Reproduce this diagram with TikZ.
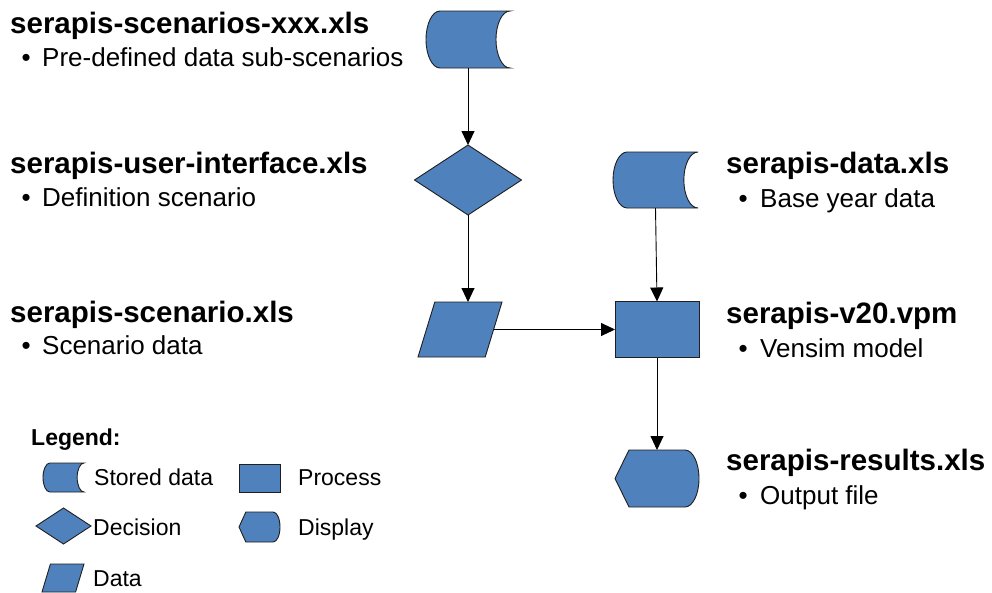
\documentclass[tikz,border=0pt]{standalone}
\usepackage{fontspec}
\setmainfont{Liberation Sans}
\usetikzlibrary{arrows.meta}
\definecolor{shpblue}{HTML}{4F81BD}
\definecolor{shpline}{HTML}{1F1F1F}
\tikzset{
  frame/.style={draw=none, inner sep=0pt, outer sep=0pt},
  shp/.style={draw=shpline, fill=shpblue, line width=0.9pt, line join=miter},
  arr/.style={draw=black, line width=0.9pt, -{Triangle[length=14pt,width=13pt]}},
  ttl/.style={anchor=base west, inner sep=0pt, font=\fontsize{29.5}{34}\selectfont\bfseries},
  bul/.style={anchor=base west, inner sep=0pt, font=\fontsize{26}{30}\selectfont},
  leg/.style={anchor=base west, inner sep=0pt, font=\fontsize{23}{27}\selectfont},
  legh/.style={anchor=base west, inner sep=0pt, font=\fontsize{23}{27}\selectfont\bfseries}
}
% name, cx, cy, half width, half height
\newcommand{\StoredShape}[5]{%
  \node[frame, minimum width={2*#4}, minimum height={2*#5}] (#1) at (#2,#3) {};
  \pgfmathsetmacro\shR{#4/3}\pgfmathsetmacro\shKx{\shR*0.5523}\pgfmathsetmacro\shKy{#5*0.5523}%
  \begin{scope}[shift={(#1.center)}]
    \draw[shp] (-#4+\shR,-#5) -- (#4,-#5)
      .. controls (#4-\shKx,-#5) and (#4-\shR,-\shKy) .. (#4-\shR,0)
      .. controls (#4-\shR,\shKy) and (#4-\shKx,#5) .. (#4,#5)
      -- (-#4+\shR,#5)
      .. controls (-#4+\shR-\shKx,#5) and (-#4,\shKy) .. (-#4,0)
      .. controls (-#4,-\shKy) and (-#4+\shR-\shKx,-#5) .. cycle;
  \end{scope}}
\newcommand{\DisplayShape}[5]{%
  \node[frame, minimum width={2*#4}, minimum height={2*#5}] (#1) at (#2,#3) {};
  \pgfmathsetmacro\shR{#4/3}\pgfmathsetmacro\shKx{\shR*0.5523}\pgfmathsetmacro\shKy{#5*0.5523}%
  \begin{scope}[shift={(#1.center)}]
    \draw[shp] (-#4,0) -- (-#4+\shR,-#5) -- (#4-\shR,-#5)
      .. controls (#4-\shR+\shKx,-#5) and (#4,-\shKy) .. (#4,0)
      .. controls (#4,\shKy) and (#4-\shR+\shKx,#5) .. (#4-\shR,#5)
      -- (-#4+\shR,#5) -- cycle;
  \end{scope}}
\newcommand{\IOShape}[5]{%
  \node[frame, minimum width={2*#4}, minimum height={2*#5}] (#1) at (#2,#3) {};
  \pgfmathsetmacro\shO{2*#4/5}%
  \begin{scope}[shift={(#1.center)}]
    \draw[shp] (-#4+\shO,-#5) -- (#4,-#5) -- (#4-\shO,#5) -- (-#4,#5) -- cycle;
    \coordinate (#1-r) at (#4-\shO/2,0);
  \end{scope}}
\newcommand{\DiamondShape}[5]{%
  \node[frame, minimum width={2*#4}, minimum height={2*#5}] (#1) at (#2,#3) {};
  \begin{scope}[shift={(#1.center)}]
    \draw[shp] (0,-#5) -- (#4,0) -- (0,#5) -- (-#4,0) -- cycle;
  \end{scope}}
\newcommand{\ProcShape}[5]{%
  \node[shp, inner sep=0pt, outer sep=0pt, minimum width={2*#4}, minimum height={2*#5}] (#1) at (#2,#3) {};}
\begin{document}
\begin{tikzpicture}[x=1pt,y=-1pt]
\useasboundingbox[fill=white] (0,0) rectangle (992,592);

% main flow shapes
\StoredShape{sd1}{468}{39.5}{42}{28.5}
\DiamondShape{dec}{468}{180}{53.5}{35}
\IOShape{io}{460}{329.5}{42}{27.5}
\StoredShape{sd2}{655.5}{180}{42.5}{28}
\ProcShape{proc}{657}{329.5}{42}{28}
\DisplayShape{disp}{657}{478.5}{42}{28.5}

% connectors
\draw[arr] (sd1.south) -- (dec.north);
\draw[arr] (dec.south) -- (dec.south |- io.north);
\draw[arr] (io-r) -- (io-r -| proc.west);
\draw[arr] (sd2.south) -- (proc.north);
\draw[arr] (proc.south) -- (disp.north);

% left labels
\node[ttl] (t1) at (10,33) {serapis-scenarios-xxx.xls};
\node[bul] (t1b) at (21.5,66) {•};
\node[bul] (t1t) at (42,66) {Pre-defined data sub-scenarios};
\node[ttl] (t2) at (10,173) {serapis-user-interface.xls};
\node[bul] (t2b) at (21.5,206) {•};
\node[bul] (t2t) at (42,206) {Definition scenario};
\node[ttl] (t3) at (10,322) {serapis-scenario.xls};
\node[bul] (t3b) at (21.5,354) {•};
\node[bul] (t3t) at (42,354) {Scenario data};

% right labels
\node[ttl] (r1) at (726,173) {serapis-data.xls};
\node[bul] (r1b) at (738.5,207) {•};
\node[bul] (r1t) at (760,207) {Base year data};
\node[ttl] (r2) at (726,323) {serapis-v20.vpm};
\node[bul] (r2b) at (738.5,357) {•};
\node[bul] (r2t) at (760,357) {Vensim model};
\node[ttl] (r3) at (726,470) {serapis-results.xls};
\node[bul] (r3b) at (738.5,504) {•};
\node[bul] (r3t) at (760,504) {Output file};

% legend
\node[legh] (lg) at (31,445) {Legend:};
\StoredShape{lsd}{63.5}{477.5}{20.5}{14.5}
\node[leg] (lsdt) at (94,485) {Stored data};
\ProcShape{lpr}{259.5}{478}{20.5}{14}
\node[leg] (lprt) at (298,485) {Process};
\DiamondShape{ldec}{63.5}{526}{27.5}{18}
\node[leg] (ldect) at (93,535) {Decision};
\DisplayShape{ldisp}{259.5}{527}{20.5}{15}
\node[leg] (ldispt) at (298,535) {Display};
\IOShape{lio}{63}{578}{21}{14}
\node[leg] (liot) at (93,586) {Data};
\end{tikzpicture}
\end{document}
